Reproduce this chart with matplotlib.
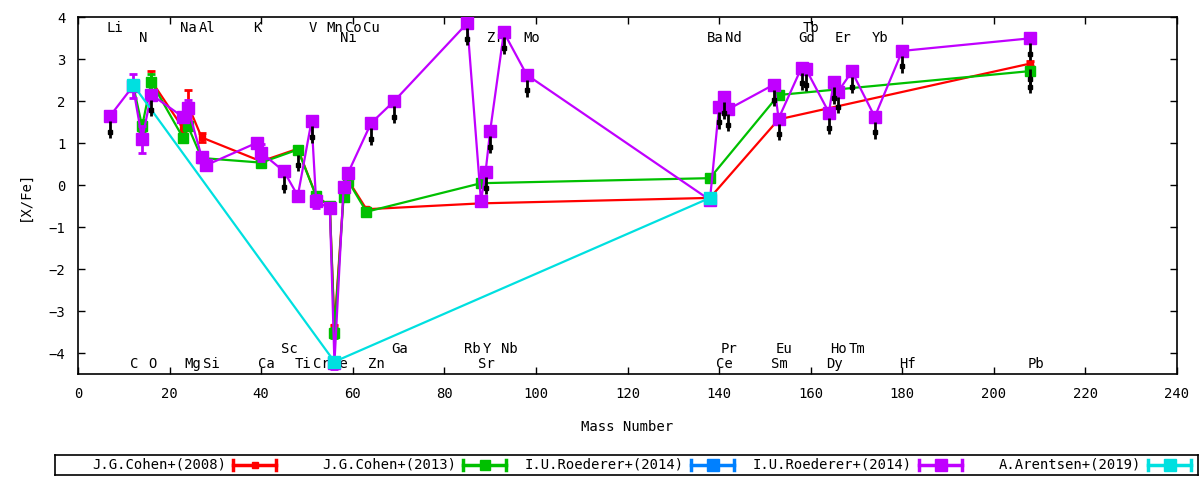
import matplotlib
matplotlib.use("Agg")
import matplotlib.pyplot as plt
import numpy as np

FONT = "DejaVu Sans Mono"
plt.rcParams['font.family'] = [FONT, 'DejaVu Sans']

# ---------------- data ----------------
# J.G.Cohen+(2008)
red_mass = [16, 23, 24, 27, 40, 48, 52, 55, 56, 58, 59, 63, 88, 138, 153, 208]
red_val  = [2.49, 1.35, 1.92, 1.14, 0.57, 0.87, -0.25, -0.5, -3.38, -0.22, 0.12, -0.57, -0.43, -0.3, 1.57, 2.9]
red_err  = [0.22, 0.1, 0.35, 0.1, 0.05, 0.05, 0.05, 0.05, 0.05, 0.05, 0.05, 0.05, 0.05, 0.05, 0.05, 0.07]

# J.G.Cohen+(2013)
grn_mass = [12, 14, 16, 23, 24, 27, 40, 48, 52, 55, 56, 58, 59, 63, 88, 138, 153, 208]
grn_val  = [2.4, 1.41, 2.46, 1.12, 1.41, 0.65, 0.54, 0.85, -0.25, -0.5, -3.52, -0.27, 0.1, -0.63, 0.05, 0.17, 2.15, 2.72]
grn_err  = [0.1, 0.15, 0.2, 0.08, 0.1, 0.05, 0.05, 0.05, 0.1, 0.05, 0.12, 0.05, 0.05, 0.05, 0.05, 0.05, 0.05, 0.08]

# I.U.Roederer+(2014) (blue, not visible)
blu_mass = []
blu_val = []
blu_err = []

# I.U.Roederer+(2014) (purple)
pur_mass = [7, 12, 14, 16, 23, 24, 27, 28, 39, 40, 45, 48, 51, 52, 55, 56, 58, 59, 64, 69,
            85, 88, 89, 90, 93, 98, 138, 140, 141, 142, 152, 153, 158, 159, 164, 165, 166,
            169, 174, 180, 208]
pur_val  = [1.65, 2.36, 1.1, 2.16, 1.62, 1.84, 0.68, 0.48, 1.01, 0.78, 0.33, -0.25, 1.53, -0.38,
            -0.55, -4.23, -0.04, 0.3, 1.48, 2.0, 3.86, -0.38, 0.31, 1.29, 3.64, 2.63, -0.35,
            1.87, 2.1, 1.81, 2.4, 1.59, 2.8, 2.76, 1.73, 2.46, 2.23, 2.71, 1.63, 3.2, 3.5]
pur_err  = [0.0, 0.29, 0.32, 0.05, 0.1, 0.2, 0.1, 0.12, 0.05, 0.2, 0.0, 0.12, 0.0, 0.15,
            0.08, 0.15, 0.12, 0.1, 0.0, 0.0, 0.0, 0.08, 0.0, 0.0, 0.0, 0.0, 0.1,
            0.0, 0.0, 0.0, 0.0, 0.0, 0.0, 0.0, 0.0, 0.0, 0.0, 0.0, 0.0, 0.0, 0.0]

# A.Arentsen+(2019)
cya_mass = [12, 56, 138]
cya_val  = [2.4, -4.2, -0.3]
cya_err  = [0.05, 0.05, 0.05]

# upper limits (black arrows)
ul_mass = [7, 16, 45, 48, 51, 64, 69, 85, 89, 90, 93, 98, 140, 141, 142, 152, 153, 158,
           159, 164, 165, 166, 169, 174, 180, 208, 208, 208]
ul_val  = [1.65, 2.16, 0.33, 0.85, 1.53, 1.48, 2.0, 3.86, 0.31, 1.29, 3.64, 2.63, 1.87,
           2.1, 1.81, 2.4, 1.59, 2.8, 2.76, 1.73, 2.46, 2.23, 2.71, 1.63, 3.2, 3.5, 2.9, 2.72]

# element labels: (name, mass)
lab_top1 = [("Li", 7), ("Na", 23), ("Al", 27), ("K", 39), ("V", 51), ("Mn", 55),
            ("Co", 59), ("Cu", 63), ("Tb", 159)]
lab_top2 = [("N", 14), ("Ni", 58), ("Zr", 90), ("Mo", 98), ("Ba", 138), ("Nd", 142),
            ("Gd", 158), ("Er", 166), ("Yb", 174)]
lab_bot1 = [("Sc", 45), ("Ga", 69), ("Rb", 85), ("Y", 89), ("Nb", 93), ("Pr", 141),
            ("Eu", 153), ("Ho", 165), ("Tm", 169)]
lab_bot2 = [("C", 12), ("O", 16), ("Mg", 24), ("Si", 28), ("Ca", 40), ("Ti", 48),
            ("Cr", 52), ("Fe", 56), ("Zn", 64), ("Sr", 88), ("Ce", 140), ("Sm", 152),
            ("Dy", 164), ("Hf", 180), ("Pb", 208)]

series = [
    ("J.G.Cohen+(2008)", red_mass, red_val, red_err, "#ff0000", "s", 5),
    ("J.G.Cohen+(2013)", grn_mass, grn_val, grn_err, "#00c000", "s", 7),
    ("I.U.Roederer+(2014)", blu_mass, blu_val, blu_err, "#0080ff", "s", 8),
    ("I.U.Roederer+(2014)", pur_mass, pur_val, pur_err, "#c000ff", "s", 8),
    ("A.Arentsen+(2019)", cya_mass, cya_val, cya_err, "#00e0e0", "s", 8),
]

# ---------------- figure ----------------
fig = plt.figure(figsize=(12, 4.8), dpi=100)
ax = fig.add_axes([78/1200, 1 - 374.3/480, (1177-78)/1200, (374.3-17.3)/480])

fs = 10
for i, (name, m, v, e, col, mk, ms) in enumerate(series):
    if len(m) == 0:
        continue
    ax.errorbar(m, v, yerr=e, color=col, lw=1.6, elinewidth=2, capsize=3, capthick=2,
                marker=mk, ms=ms, mec=col, mfc=col, zorder=3 + i)

# upper-limit arrows
um = np.array(ul_mass, dtype=float)
uv = np.array(ul_val, dtype=float)
ax.vlines(um, uv - 0.12, uv - 0.52, color="black", lw=2, zorder=10)
ax.plot(um, uv - 0.37, "s", color="black", ms=3.2, zorder=10)

# element labels
for rows, yv in ((lab_top1, 3.745), (lab_top2, 3.51), (lab_bot1, -3.90), (lab_bot2, -4.25)):
    for name, m in rows:
        ax.text(m - 0.7, yv, name, ha="left", va="center", fontsize=fs,
                family=FONT, zorder=1)

ax.set_xlim(0, 240)
ax.set_ylim(-4.5, 4)
ax.set_xticks(np.arange(0, 241, 20))
ax.set_yticks(np.arange(-4, 5, 1))
ax.tick_params(direction="in", top=True, right=True, length=5, width=1,
               labelsize=fs, pad=9)
for sp in ax.spines.values():
    sp.set_linewidth(1.2)
ax.set_xlabel("Mass Number", fontsize=fs, labelpad=14)
ax.set_ylabel("[X/Fe]", fontsize=fs, labelpad=12)

# legend (gnuplot style)
lax = fig.add_axes([55/1200, 1 - 475/480, (1198-55)/1200, 20/480])
lax.set_xlim(55, 1198)
lax.set_ylim(0, 1)
lax.set_xticks([])
lax.set_yticks([])
for sp in lax.spines.values():
    sp.set_linewidth(1.2)
text_right = [226, 456, 684, 912, 1141]
for (name, m, v, e, col, mk, ms), tr in zip(series, text_right):
    lax.text(tr, 0.5, name, ha="right", va="center", fontsize=fs, family=FONT)
    x0, x1 = tr + 7, tr + 50
    lax.plot([x0, x1], [0.5, 0.5], color=col, lw=2.5)
    lax.plot([x0, x0], [0.25, 0.75], color=col, lw=2.5)
    lax.plot([x1, x1], [0.25, 0.75], color=col, lw=2.5)
    lax.plot([(x0 + x1) / 2], [0.5], marker=mk, ms=ms, color=col)

fig.savefig("out.png", dpi=100)
